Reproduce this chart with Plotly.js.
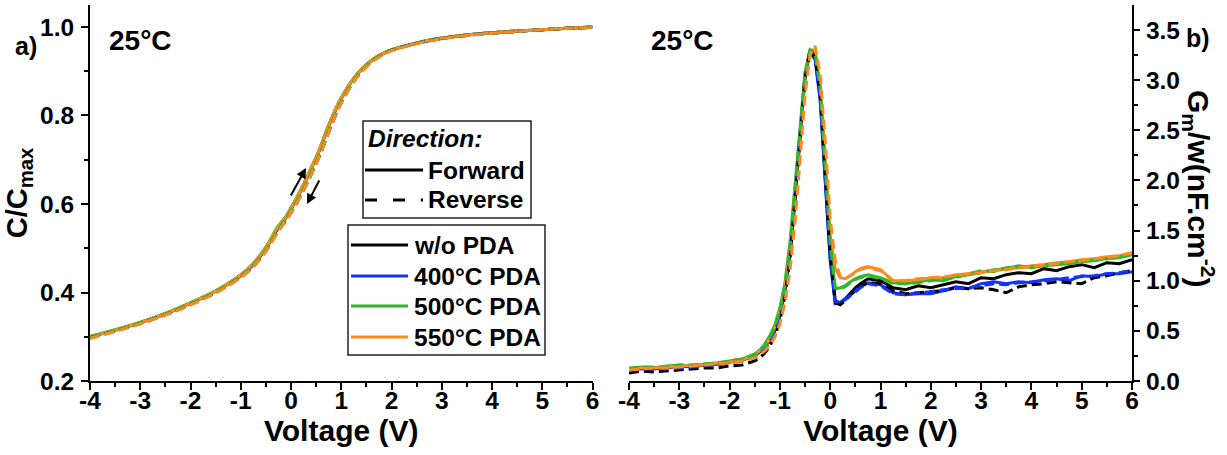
<!DOCTYPE html>
<html>
<head>
<meta charset="utf-8">
<script src="https://cdn.plot.ly/plotly-3.0.1.min.js"></script>
<style>html,body{margin:0;padding:0;background:#fff;}#chart{width:1227px;height:455px;}</style>
</head>
<body>
<div id="chart"></div>
<script>
// ---------------- DATA ----------------
const seriesNames = ['w/o PDA', '400°C PDA', '500°C PDA', '550°C PDA'];
const seriesColors = ['#000000', '#1433ff', '#2db82d', '#ff8a1c'];
const directionNames = ['Forward', 'Reverse'];
const xTicks = [-4, -3, -2, -1, 0, 1, 2, 3, 4, 5, 6];
const yTicksA = [0.2, 0.4, 0.6, 0.8, 1.0];
const yTicksB = [0.0, 0.5, 1.0, 1.5, 2.0, 2.5, 3.0, 3.5];

// Panel a) C/Cmax vs Voltage
const voltageA = [-4,-3.5,-3,-2.5,-2,-1.5,-1,-0.75,-0.5,-0.4,-0.3,-0.2,-0.1,0,0.1,0.2,0.3,0.4,0.5,0.6,0.7,0.8,0.9,1.0,1.2,1.4,1.6,1.8,2.0,2.5,3,3.5,4,4.5,5,5.5,6];
const cWoFwd   = [0.300,0.315,0.332,0.352,0.376,0.403,0.438,0.463,0.499,0.518,0.538,0.554,0.569,0.589,0.609,0.631,0.654,0.679,0.704,0.731,0.762,0.790,0.816,0.838,0.876,0.904,0.924,0.938,0.948,0.964,0.975,0.982,0.987,0.991,0.994,0.997,1.000];
const c400Fwd  = [0.300,0.315,0.332,0.352,0.376,0.403,0.439,0.464,0.500,0.519,0.540,0.556,0.570,0.590,0.610,0.632,0.655,0.680,0.705,0.732,0.763,0.791,0.817,0.839,0.876,0.904,0.924,0.938,0.948,0.963,0.974,0.982,0.987,0.991,0.994,0.997,1.000];
const c500Fwd  = [0.301,0.316,0.333,0.353,0.377,0.404,0.440,0.466,0.503,0.522,0.543,0.558,0.572,0.592,0.612,0.634,0.657,0.682,0.706,0.733,0.765,0.792,0.818,0.840,0.877,0.905,0.925,0.939,0.949,0.964,0.975,0.982,0.987,0.991,0.994,0.997,1.000];
const c550Fwd  = [0.300,0.315,0.332,0.352,0.376,0.403,0.439,0.465,0.501,0.520,0.541,0.556,0.570,0.590,0.610,0.632,0.655,0.680,0.705,0.732,0.763,0.791,0.817,0.839,0.876,0.904,0.924,0.938,0.948,0.964,0.975,0.982,0.987,0.991,0.994,0.997,1.000];
const cWoRev   = [0.298,0.313,0.330,0.350,0.373,0.400,0.435,0.459,0.494,0.512,0.531,0.548,0.563,0.581,0.600,0.621,0.643,0.667,0.692,0.718,0.748,0.777,0.805,0.829,0.869,0.899,0.921,0.936,0.947,0.963,0.974,0.981,0.986,0.990,0.994,0.997,0.999];
const c400Rev  = [0.297,0.313,0.330,0.350,0.373,0.400,0.435,0.460,0.495,0.513,0.532,0.549,0.564,0.582,0.601,0.622,0.644,0.668,0.693,0.719,0.749,0.778,0.806,0.830,0.869,0.899,0.921,0.936,0.947,0.963,0.974,0.981,0.986,0.990,0.994,0.997,0.999];
const c500Rev  = [0.298,0.314,0.331,0.351,0.374,0.401,0.436,0.461,0.497,0.515,0.534,0.551,0.566,0.584,0.603,0.624,0.646,0.670,0.695,0.721,0.751,0.780,0.808,0.831,0.870,0.900,0.922,0.937,0.947,0.963,0.974,0.981,0.986,0.990,0.994,0.997,0.999];
const c550Rev  = [0.296,0.312,0.329,0.349,0.372,0.399,0.434,0.458,0.493,0.511,0.530,0.547,0.562,0.580,0.599,0.620,0.642,0.666,0.691,0.717,0.747,0.776,0.804,0.828,0.868,0.898,0.920,0.935,0.946,0.962,0.973,0.981,0.986,0.990,0.994,0.997,0.999];

// Panel b) Gm/w vs Voltage
const voltageB = [-4,-3.75,-3.5,-3.25,-3,-2.75,-2.5,-2.25,-2,-1.75,-1.5,-1.4,-1.3,-1.2,-1.1,-1.0,-0.9,-0.8,-0.7,-0.6,-0.5,-0.4,-0.3,-0.2,-0.1,0,0.1,0.2,0.3,0.4,0.5,0.6,0.75,1.0,1.25,1.5,1.75,2,2.25,2.5,2.75,3,3.25,3.5,3.75,4,4.25,4.5,4.75,5,5.25,5.5,5.75,6];
const gWoFwd  = [0.12,0.13,0.12,0.14,0.15,0.15,0.16,0.17,0.19,0.21,0.25,0.29,0.34,0.41,0.51,0.66,0.90,1.25,1.80,2.45,3.05,3.30,3.25,2.90,2.10,1.30,0.80,0.78,0.82,0.88,0.93,0.97,1.02,1.00,0.93,0.91,0.95,0.93,0.96,0.99,0.97,1.03,1.02,1.06,1.08,1.07,1.12,1.10,1.14,1.16,1.13,1.18,1.17,1.21];
const g400Fwd = [0.12,0.12,0.13,0.13,0.15,0.14,0.16,0.17,0.19,0.21,0.26,0.30,0.35,0.42,0.53,0.70,0.95,1.32,1.88,2.50,3.05,3.28,3.20,2.80,2.00,1.20,0.77,0.78,0.82,0.86,0.90,0.94,0.98,0.96,0.88,0.86,0.87,0.87,0.90,0.94,0.92,0.97,0.99,0.97,0.99,0.98,1.01,1.02,1.00,1.05,1.04,1.07,1.07,1.09];
const g500Fwd = [0.13,0.14,0.13,0.15,0.16,0.15,0.17,0.18,0.20,0.22,0.27,0.31,0.37,0.45,0.56,0.73,0.98,1.38,1.95,2.55,3.08,3.30,3.24,2.88,2.10,1.35,0.92,0.93,0.95,0.99,1.02,1.04,1.06,1.03,0.98,0.97,0.99,1.01,1.00,1.04,1.06,1.08,1.11,1.12,1.15,1.13,1.15,1.16,1.17,1.19,1.20,1.22,1.23,1.26];
const g550Fwd = [0.12,0.13,0.13,0.14,0.15,0.16,0.16,0.18,0.19,0.21,0.26,0.30,0.35,0.42,0.53,0.69,0.94,1.32,1.88,2.50,3.05,3.30,3.30,2.95,2.20,1.45,1.12,1.03,1.02,1.05,1.09,1.12,1.14,1.11,1.00,1.00,1.01,1.03,1.03,1.06,1.07,1.09,1.10,1.12,1.13,1.15,1.16,1.18,1.19,1.21,1.22,1.24,1.25,1.27];
const gWoRev  = [0.08,0.10,0.09,0.10,0.11,0.12,0.13,0.13,0.15,0.16,0.20,0.23,0.28,0.35,0.45,0.60,0.85,1.22,1.78,2.42,3.02,3.31,3.22,2.85,2.05,1.25,0.78,0.76,0.80,0.86,0.90,0.94,0.98,0.97,0.90,0.87,0.88,0.89,0.90,0.93,0.92,0.93,0.91,0.88,0.94,0.96,0.97,0.99,0.98,0.97,1.03,1.05,1.08,1.10];
const g400Rev = [0.11,0.12,0.12,0.12,0.13,0.14,0.15,0.16,0.18,0.20,0.24,0.28,0.32,0.39,0.49,0.64,0.88,1.25,1.80,2.45,3.02,3.29,3.22,2.82,2.02,1.22,0.79,0.78,0.81,0.85,0.89,0.93,0.97,0.95,0.87,0.86,0.88,0.89,0.91,0.92,0.93,0.95,0.97,0.96,0.98,0.99,1.00,1.01,1.03,1.04,1.05,1.07,1.08,1.10];
const g500Rev = [0.12,0.14,0.14,0.14,0.16,0.16,0.17,0.18,0.20,0.22,0.26,0.30,0.35,0.43,0.54,0.70,0.95,1.33,1.90,2.52,3.06,3.30,3.26,2.92,2.15,1.38,0.93,0.92,0.94,0.98,1.01,1.03,1.05,1.02,0.97,0.97,0.98,1.00,1.02,1.03,1.07,1.10,1.09,1.13,1.14,1.14,1.16,1.17,1.18,1.20,1.21,1.22,1.24,1.26];
const g550Rev = [0.11,0.12,0.13,0.13,0.14,0.15,0.16,0.17,0.18,0.20,0.23,0.26,0.30,0.36,0.44,0.57,0.78,1.10,1.58,2.20,2.85,3.25,3.34,3.05,2.40,1.62,1.20,1.04,1.02,1.05,1.08,1.11,1.13,1.10,1.00,1.00,1.02,1.03,1.04,1.05,1.07,1.08,1.10,1.11,1.13,1.14,1.16,1.17,1.19,1.20,1.22,1.23,1.25,1.28];

// ---------------- BUILD ----------------
const fwdA = [cWoFwd, c400Fwd, c500Fwd, c550Fwd];
const revA = [cWoRev, c400Rev, c500Rev, c550Rev];
const fwdB = [gWoFwd, g400Fwd, g500Fwd, g550Fwd];
const revB = [gWoRev, g400Rev, g500Rev, g550Rev];
const LW = 3;
const DASH = '10px,5px';
const traces = [];
function addSet(xs, fwd, rev, xa, ya, shape) {
  fwd.forEach((ys, i) => traces.push({x: xs, y: ys, xaxis: xa, yaxis: ya, type: 'scatter', mode: 'lines',
    name: seriesNames[i] + ' ' + directionNames[0], showlegend: false, hoverinfo: 'skip',
    line: {color: seriesColors[i], width: LW, shape: shape, dash: 'solid'}}));
  rev.forEach((ys, i) => traces.push({x: xs, y: ys, xaxis: xa, yaxis: ya, type: 'scatter', mode: 'lines',
    name: seriesNames[i] + ' ' + directionNames[1], showlegend: false, hoverinfo: 'skip',
    line: {color: seriesColors[i], width: LW, shape: shape, dash: DASH}}));
}
addSet(voltageA, fwdA, revA, 'x', 'y', 'spline');
addSet(voltageB, fwdB, revB, 'x2', 'y2', 'linear');

const FONT = 'Liberation Sans, Arial, Helvetica, sans-serif';
const tickFont = {family: FONT, size: 24.5, color: '#000', weight: 'bold'};
const titleFont = {family: FONT, size: 30, color: '#000', weight: 'bold'};
const legFont = {family: FONT, size: 24.5, color: '#000', weight: 'bold'};

// plot area pixel geometry
const L = 90, R = 95, T = 5, B = 74;
const W = 1227, H = 455;
const pw = W - L - R;            // 1042
const dA = [0, 502.5 / pw];
const dB = [(629 - L) / pw, 1];

function mainX(domain, anchor) {
  return {domain: domain, anchor: anchor, range: [-4, 6], tickvals: xTicks, ticktext: xTicks.map(String),
    ticks: 'outside', ticklen: 7, tickwidth: 2, tickcolor: '#000',
    minor: {ticks: 'outside', ticklen: 4, tickwidth: 2, dtick: 0.5, tick0: 0, tickcolor: '#000'},
    showline: true, linewidth: 2, linecolor: '#000', showgrid: false, zeroline: false,
    tickfont: tickFont, ticklabelstandoff: -10,
    title: {text: 'Voltage (V)', font: titleFont, standoff: 0}, fixedrange: true};
}
function mirrorX(domain, anchor, over) {
  return {domain: domain, anchor: anchor, overlaying: over, side: 'top', range: [-4, 6],
    tickvals: xTicks, showticklabels: false, ticks: 'inside', ticklen: 6, tickwidth: 2, tickcolor: '#000',
    minor: {ticks: 'inside', ticklen: 3, tickwidth: 2, dtick: 0.5, tick0: 0, tickcolor: '#000'},
    showline: true, linewidth: 2, linecolor: '#000', showgrid: false, zeroline: false, fixedrange: true};
}

const layout = {
  width: W, height: H,
  margin: {l: L, r: R, t: T, b: B, pad: 0},
  paper_bgcolor: '#fff', plot_bgcolor: '#fff',
  showlegend: false,
  font: {family: FONT, color: '#000'},
  xaxis: mainX(dA, 'y'),
  xaxis2: mainX(dB, 'y2'),
  xaxis3: mirrorX(dA, 'y', 'x'),
  xaxis4: mirrorX(dB, 'y2', 'x2'),
  yaxis: {domain: [0, 1], anchor: 'x', range: [0.2, 1.0497], tickvals: yTicksA, ticktext: yTicksA.map(v => v.toFixed(1)),
    ticks: 'outside', ticklen: 7, tickwidth: 2, tickcolor: '#000',
    minor: {ticks: 'outside', ticklen: 4, tickwidth: 2, dtick: 0.1, tick0: 0, tickcolor: '#000'},
    showline: true, linewidth: 2, linecolor: '#000', showgrid: false, zeroline: false,
    tickfont: tickFont, ticklabelstandoff: 2,
    title: {text: 'C/C<sub>max</sub>', font: {family: FONT, size: 29, color: '#000', weight: 'bold'}, standoff: 4}, fixedrange: true},
  yaxis3: {domain: [0, 1], anchor: 'x', overlaying: 'y', side: 'right', range: [0.2, 1.0497], tickvals: yTicksA,
    showticklabels: false, ticks: 'inside', ticklen: 6, tickwidth: 2, tickcolor: '#000',
    minor: {ticks: 'inside', ticklen: 3, tickwidth: 2, dtick: 0.1, tick0: 0, tickcolor: '#000'},
    showline: true, linewidth: 2, linecolor: '#000', showgrid: false, zeroline: false, fixedrange: true},
  yaxis2: {domain: [0, 1], anchor: 'x2', side: 'right', range: [0, 3.749], tickvals: yTicksB, ticktext: yTicksB.map(v => v.toFixed(1)),
    ticks: 'outside', ticklen: 6, tickwidth: 2, tickcolor: '#000',
    minor: {ticks: 'outside', ticklen: 4, tickwidth: 2, dtick: 0.25, tick0: 0, tickcolor: '#000'},
    showline: true, linewidth: 2, linecolor: '#000', showgrid: false, zeroline: false,
    tickfont: tickFont, ticklabelstandoff: 1, fixedrange: true},
  yaxis4: {domain: [0, 1], anchor: 'x2', overlaying: 'y2', side: 'left', range: [0, 3.749], tickvals: yTicksB,
    showticklabels: false, ticks: 'inside', ticklen: 6, tickwidth: 2, tickcolor: '#000',
    minor: {ticks: 'inside', ticklen: 3, tickwidth: 2, dtick: 0.25, tick0: 0, tickcolor: '#000'},
    showline: true, linewidth: 2, linecolor: '#000', showgrid: false, zeroline: false, fixedrange: true},
  shapes: [], annotations: []
};

// helpers: pixel -> panel-a domain coords
const ph = H - T - B;  // 376
const dxA = px => (px - L) / 502.5;
const dyA = py => (H - B - py) / ph;
const px2paperX = px => (px - L) / pw;
const py2paperY = py => (H - B - py) / ph;

// Direction legend box
layout.shapes.push({type: 'rect', xref: 'x domain', yref: 'y domain', x0: dxA(363), x1: dxA(531), y0: dyA(218), y1: dyA(121),
  line: {color: '#222', width: 1.5}, fillcolor: 'rgba(255,255,255,0)'});
layout.annotations.push({xref: 'x domain', yref: 'y domain', x: dxA(366), y: dyA(138), xanchor: 'left', yanchor: 'middle',
  text: 'Direction:', showarrow: false, font: Object.assign({}, legFont, {style: 'italic'})});
[['solid', 170], [DASH, 200]].forEach(([dash, py], i) => {
  layout.shapes.push({type: 'line', xref: 'x domain', yref: 'y domain', x0: dxA(365), x1: dxA(423), y0: dyA(py), y1: dyA(py),
    line: {color: '#000', width: LW, dash: i === 0 ? 'solid' : '12px,16px'}});
  layout.annotations.push({xref: 'x domain', yref: 'y domain', x: dxA(426), y: dyA(py), xanchor: 'left', yanchor: 'middle',
    text: directionNames[i], showarrow: false, font: legFont});
});

// Series legend box
layout.shapes.push({type: 'rect', xref: 'x domain', yref: 'y domain', x0: dxA(348), x1: dxA(545), y0: dyA(355), y1: dyA(225),
  line: {color: '#222', width: 1.5}, fillcolor: 'rgba(255,255,255,0)'});
[245, 276, 306, 337].forEach((py, i) => {
  layout.shapes.push({type: 'line', xref: 'x domain', yref: 'y domain', x0: dxA(351), x1: dxA(408), y0: dyA(py), y1: dyA(py),
    line: {color: seriesColors[i], width: LW}});
  layout.annotations.push({xref: 'x domain', yref: 'y domain', x: dxA(412), y: dyA(py), xanchor: 'left', yanchor: 'middle',
    text: seriesNames[i], showarrow: false, font: legFont});
});

// arrows indicating sweep direction
layout.annotations.push({xref: 'x domain', yref: 'y domain', x: dxA(306), y: dyA(168), ax: -16, ay: 29, axref: 'pixel', ayref: 'pixel',
  showarrow: true, arrowhead: 2, arrowsize: 1, arrowwidth: 2, arrowcolor: '#000', text: ''});
layout.annotations.push({xref: 'x domain', yref: 'y domain', x: dxA(307), y: dyA(204), ax: 13, ay: -25, axref: 'pixel', ayref: 'pixel',
  showarrow: true, arrowhead: 2, arrowsize: 1, arrowwidth: 2, arrowcolor: '#000', text: ''});

// panel labels & temperature tags
const tagFont = {family: FONT, size: 28, color: '#000', weight: 'bold'};
layout.annotations.push({xref: 'paper', yref: 'paper', x: px2paperX(140), y: py2paperY(41), xanchor: 'center', yanchor: 'middle', text: '25°C', showarrow: false, font: tagFont});
layout.annotations.push({xref: 'paper', yref: 'paper', x: px2paperX(682), y: py2paperY(41), xanchor: 'center', yanchor: 'middle', text: '25°C', showarrow: false, font: tagFont});
layout.annotations.push({xref: 'paper', yref: 'paper', x: px2paperX(26), y: py2paperY(46), xanchor: 'center', yanchor: 'middle', text: 'a)', showarrow: false, font: {family: FONT, size: 25, color: '#000', weight: 'bold'}});
layout.annotations.push({xref: 'paper', yref: 'paper', x: px2paperX(1198), y: py2paperY(38), xanchor: 'center', yanchor: 'middle', text: 'b)', showarrow: false, font: {family: FONT, size: 25, color: '#000', weight: 'bold'}});
// right y-axis title (reads top to bottom)
layout.annotations.push({xref: 'paper', yref: 'paper', x: px2paperX(1199), y: py2paperY(188), xanchor: 'center', yanchor: 'middle', textangle: 90,
  text: 'G<sub>m</sub>/w(nF.cm<sup>-2</sup>)', showarrow: false, font: {family: FONT, size: 30, color: '#000', weight: 'bold'}});

Plotly.newPlot('chart', traces, layout, {staticPlot: true, displayModeBar: false});
</script>
</body>
</html>
